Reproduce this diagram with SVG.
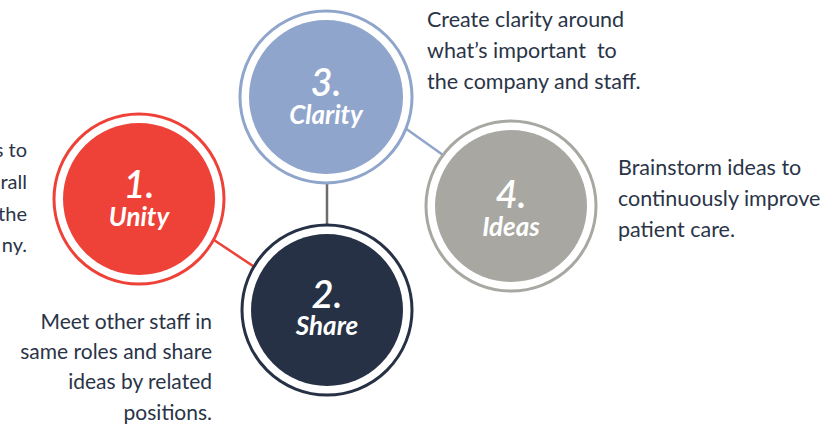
<svg xmlns="http://www.w3.org/2000/svg" width="838" height="425" viewBox="0 0 838 425">
  <style>
    .body { font-family: Lato, "Open Sans", "Liberation Sans", sans-serif; font-size: 21.5px; fill: #2a3447; }
    .small { font-size: 20px; }
    .mid { font-size: 21px; }
    .pre { white-space: pre; }
    .num { font-family: Lato, "Open Sans", "Liberation Sans", sans-serif; font-size: 38px; font-style: italic; font-weight: 600; fill: #ffffff; text-anchor: middle; }
    .word { font-family: Lato, "Open Sans", "Liberation Sans", sans-serif; font-size: 26px; font-style: italic; font-weight: 700; fill: #ffffff; text-anchor: middle; }
    .ring { fill: #ffffff; stroke-width: 3; }
    .conn { stroke-width: 2.5; fill: none; }
  </style>
  <rect width="838" height="425" fill="#ffffff"/>

  <!-- connectors (drawn first, the rings sit on top) -->
  <g id="connectors">
    <line class="conn" x1="205" y1="234" x2="262" y2="272" stroke="#ee4238"/>
    <line class="conn" x1="327" y1="175" x2="327" y2="232" stroke="#6d6d6d"/>
    <line class="conn" x1="398" y1="123" x2="450" y2="160" stroke="#8fa5cb"/>
  </g>

  <!-- side descriptions -->
  <g id="text-unity" class="body small" text-anchor="end">
    <text x="27" y="157">s to</text>
    <text x="27" y="189">rall</text>
    <text x="27" y="221">the</text>
    <text x="27" y="252">ny.</text>
  </g>
  <g id="text-share" class="body mid" text-anchor="end">
    <text x="212" y="329">Meet other staff in</text>
    <text x="212" y="359">same roles and share</text>
    <text x="212" y="389">ideas by related</text>
    <text x="212" y="420">positions.</text>
  </g>
  <g id="text-clarity" class="body">
    <text x="427" y="27">Create clarity around</text>
    <text class="pre" x="427" y="58" xml:space="preserve">what’s important  to</text>
    <text x="427" y="89">the company and staff.</text>
  </g>
  <g id="text-ideas" class="body">
    <text x="618" y="175">Brainstorm ideas to</text>
    <text x="618" y="206">continuously improve</text>
    <text x="618" y="237">patient care.</text>
  </g>

  <!-- node 1 -->
  <g id="node-unity">
    <circle class="ring" cx="139" cy="199" r="85" stroke="#ee4238"/>
    <circle cx="139" cy="199" r="76" fill="#ee4238"/>
    <text class="num" x="139" y="198">1.</text>
    <text class="word" x="139" y="226">Unity</text>
  </g>

  <!-- node 2 -->
  <g id="node-share">
    <circle class="ring" cx="327" cy="310" r="85" stroke="#263145"/>
    <circle cx="327" cy="310" r="76" fill="#263145"/>
    <text class="num" x="327" y="308">2.</text>
    <text class="word" x="327" y="335">Share</text>
  </g>

  <!-- node 3 -->
  <g id="node-clarity">
    <circle class="ring" cx="326" cy="97" r="86" stroke="#8fa5cb"/>
    <circle cx="326" cy="97" r="77" fill="#8fa5cb"/>
    <text class="num" x="326" y="96">3.</text>
    <text class="word" x="326" y="124">Clarity</text>
  </g>

  <!-- node 4 -->
  <g id="node-ideas">
    <circle class="ring" cx="511" cy="206" r="85" stroke="#a8a7a2"/>
    <circle cx="511" cy="206" r="76" fill="#a8a7a2"/>
    <text class="num" x="511" y="208">4.</text>
    <text class="word" x="511" y="236">Ideas</text>
  </g>
</svg>
